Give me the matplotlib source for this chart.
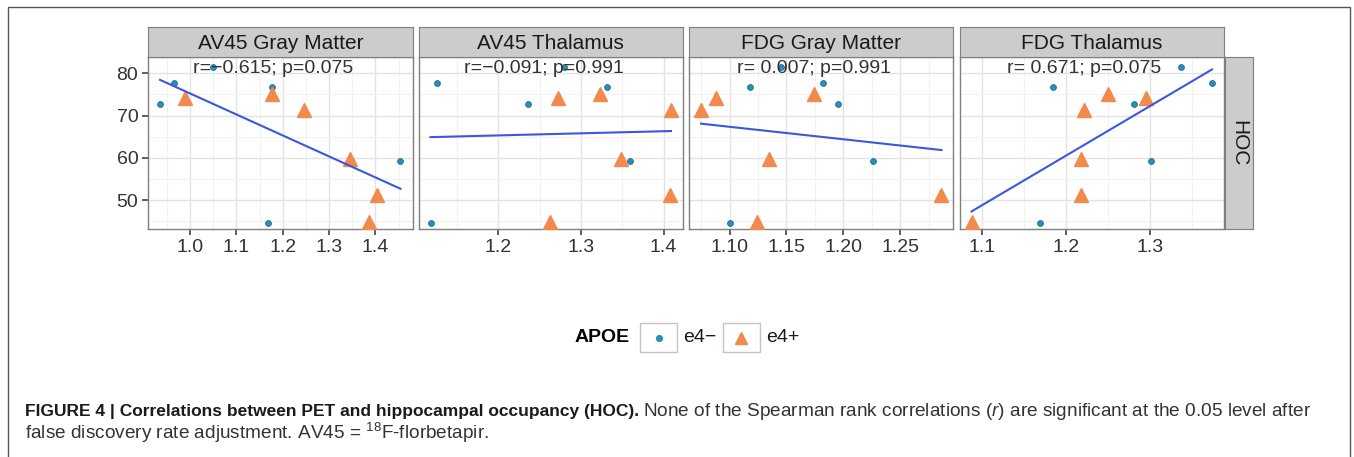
import matplotlib
matplotlib.use("Agg")
import matplotlib.pyplot as plt
import numpy as np
from matplotlib.patches import Rectangle
from matplotlib.lines import Line2D
from matplotlib.ticker import FixedLocator, MultipleLocator

plt.rcParams['font.family'] = ['Liberation Sans', 'DejaVu Sans']
plt.rcParams['mathtext.fontset'] = 'custom'
plt.rcParams['mathtext.rm'] = 'Liberation Sans'
plt.rcParams['mathtext.it'] = 'Liberation Sans:italic'
plt.rcParams['mathtext.bf'] = 'Liberation Sans:bold'

# ---- data ----
panels = ['AV45 Gray Matter', 'AV45 Thalamus', 'FDG Gray Matter', 'FDG Thalamus']
stats = ['r=\u22120.615; p=0.075', 'r=\u22120.091; p=0.991',
         'r= 0.007; p=0.991', 'r= 0.671; p=0.075']
hoc = [81.4, 77.7, 76.8, 75.1, 74.2, 72.8, 71.4, 59.7, 59.3, 51.2, 44.8, 44.6]
apoe = ['e4-', 'e4-', 'e4-', 'e4+', 'e4+', 'e4-', 'e4+', 'e4+', 'e4-', 'e4+', 'e4+', 'e4-']
av45_gm = [1.050, 0.966, 1.176, 1.176, 0.988, 0.935, 1.245, 1.344, 1.454, 1.403, 1.385, 1.168]
av45_thal = [1.280, 1.126, 1.332, 1.323, 1.272, 1.236, 1.409, 1.349, 1.360, 1.408, 1.262, 1.118]
fdg_gm = [1.145, 1.182, 1.118, 1.174, 1.088, 1.195, 1.075, 1.135, 1.226, 1.286, 1.124, 1.100]
fdg_thal = [1.337, 1.374, 1.185, 1.250, 1.296, 1.281, 1.222, 1.218, 1.301, 1.218, 1.088, 1.169]
xvals = [av45_gm, av45_thal, fdg_gm, fdg_thal]
xticks = [[1.0, 1.1, 1.2, 1.3, 1.4], [1.2, 1.3, 1.4], [1.10, 1.15, 1.20, 1.25], [1.1, 1.2, 1.3]]
xtick_fmt = ['%.1f', '%.1f', '%.2f', '%.1f']
yticks = [50, 60, 70, 80]

cap_bold = 'FIGURE 4 | Correlations between PET and hippocampal occupancy (HOC).'
cap_rest = r'None of the Spearman rank correlations ($\mathit{r}$) are significant at the 0.05 level after'
cap_line2 = r'false discovery rate adjustment. AV45 = $^{18}$F-florbetapir.'

W, H = 1354, 457
fig = plt.figure(figsize=(W / 100, H / 100), dpi=100)

def box(x0, y0, x1, y1):
    return [x0 / W, 1 - y1 / H, (x1 - x0) / W, (y1 - y0) / H]

blue = '#2a8fb8'
orange = '#f28a4e'
txtc = '#333333'
p_left, p_w, gap = 148, 264.5, 6
p_top, p_bot = 57.3, 229
y = np.array(hoc)
grp = np.array(apoe)

for i in range(4):
    x0 = p_left + i * (p_w + gap)
    ax = fig.add_axes(box(x0, p_top, x0 + p_w, p_bot))
    x = np.array(xvals[i])
    rng = x.max() - x.min()
    ax.set_xlim(x.min() - 0.05 * rng, x.max() + 0.05 * rng)
    ax.set_ylim(43.15, 83.8)
    ax.xaxis.set_major_locator(FixedLocator(xticks[i]))
    step = xticks[i][1] - xticks[i][0]
    ax.xaxis.set_minor_locator(MultipleLocator(step / 2))
    ax.yaxis.set_major_locator(FixedLocator(yticks))
    ax.yaxis.set_minor_locator(MultipleLocator(5))
    ax.set_xticklabels([xtick_fmt[i] % t for t in xticks[i]])
    ax.grid(which='major', color='#e3e3e3', lw=1.0)
    ax.grid(which='minor', color='#f2f2f2', lw=0.8)
    ax.set_axisbelow(True)
    for s in ax.spines.values():
        s.set_color('#7f7f7f')
        s.set_linewidth(1.0)
    ax.tick_params(which='minor', length=0)
    ax.tick_params(which='major', length=4, width=1.2, color='#444444',
                   labelsize=14, labelcolor=txtc, pad=3)
    if i > 0:
        ax.tick_params(axis='y', labelleft=False, length=0)

    m = grp == 'e4-'
    ax.plot(x[m], y[m], 'o', ms=4.2, color=blue, mec='#1d6f8f', mew=0.6, zorder=3)
    ax.plot(x[~m], y[~m], '^', ms=9.5, color=orange, mec=orange, zorder=3)
    k, b = np.polyfit(x, y, 1)
    xs = np.array([x.min(), x.max()])
    ax.plot(xs, k * xs + b, color='#3b57e0', lw=1.5, zorder=4)
    ax.text(0.473, 0.932, stats[i], transform=ax.transAxes, ha='center', va='center',
            fontsize=14, color=txtc, zorder=5)

    sax = fig.add_axes(box(x0, 27.3, x0 + p_w, p_top))
    sax.set_facecolor('#cccccc')
    sax.set_xticks([])
    sax.set_yticks([])
    for s in sax.spines.values():
        s.set_color('#7f7f7f')
    sax.text(0.5, 0.47, panels[i], transform=sax.transAxes, ha='center', va='center',
             fontsize=15, color='#1a1a1a')

# right strip
rax = fig.add_axes(box(1224.5, p_top, 1253, p_bot))
rax.set_facecolor('#cccccc')
rax.set_xticks([])
rax.set_yticks([])
for s in rax.spines.values():
    s.set_color('#7f7f7f')
rax.text(0.5, 0.5, 'HOC', transform=rax.transAxes, rotation=-90, ha='center', va='center',
         fontsize=15, color='#1a1a1a')

# legend
ly = 337.5
fig.text(575 / W, 1 - ly / H, 'APOE', fontsize=14, fontweight='bold', va='center', ha='left')
for (bx, lab, mk, ms, col) in [(640, 'e4\u2212', 'o', 4.2, blue), (723, 'e4+', '^', 9, orange)]:
    fig.patches.append(Rectangle((bx / W, 1 - 352 / H), 37 / W, 29 / H, transform=fig.transFigure,
                                 facecolor='white', edgecolor='#c4c4c4', lw=1))
    fig.lines.append(Line2D([(bx + 18.5) / W], [1 - ly / H], marker=mk, ms=ms, color=col,
                            mec=col, transform=fig.transFigure))
    fig.text((bx + 43) / W, 1 - ly / H, lab, fontsize=14, va='center', ha='left', color='#1a1a1a')

# outer frame
fig.patches.append(Rectangle((8 / W, -0.05), 1342 / W, 1.05 - 7 / H, transform=fig.transFigure,
                             facecolor='none', edgecolor='#555555', lw=1))

# caption: sizes chosen so the line widths match the original layout
fig.canvas.draw()
r = fig.canvas.get_renderer()
t1 = fig.text(25 / W, 1 - 416 / H, cap_bold, fontsize=10, fontweight='bold',
              color='#1a1a1a', va='baseline')
w = t1.get_window_extent(renderer=r).width
t1.set_fontsize(10 * 612 / w)
bb = t1.get_window_extent(renderer=r)
t2 = fig.text((bb.x1 + 4) / W, 1 - 416 / H, cap_rest, fontsize=10, color='#333333', va='baseline')
w2 = t2.get_window_extent(renderer=r).width
fs2 = 10 * (1310 - bb.x1 - 4) / w2
t2.set_fontsize(fs2)
fig.text(25 / W, 1 - 439 / H, cap_line2, fontsize=fs2, color='#333333', va='baseline')

fig.savefig('out.png', dpi=100)
